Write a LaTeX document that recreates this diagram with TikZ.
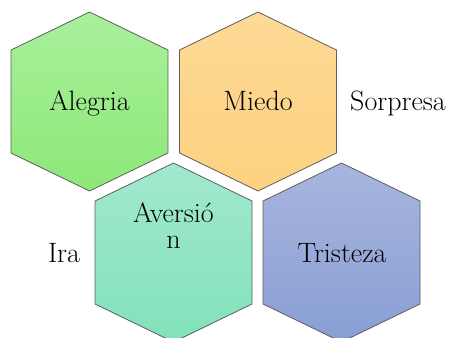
\documentclass[tikz,border=0pt]{standalone}
\usepackage{tikz}
\definecolor{alegriaTop}{HTML}{A8F09C}
\definecolor{alegriaBot}{HTML}{8DE877}
\definecolor{miedoTop}{HTML}{FDDA96}
\definecolor{miedoBot}{HTML}{FDD180}
\definecolor{aversionTop}{HTML}{A2E8CE}
\definecolor{aversionBot}{HTML}{82E2BA}
\definecolor{tristezaTop}{HTML}{A8B6DE}
\definecolor{tristezaBot}{HTML}{889ED4}
\definecolor{hexline}{HTML}{5E5E5E}
\def\hexa[#1](#2,#3){\draw[#1] (#2, #3-89.5) -- (#2+78.5, #3-51.5) -- (#2+78.5, #3+51.5) -- (#2, #3+89.5) -- (#2-78.5, #3+51.5) -- (#2-78.5, #3-51.5) -- cycle;}
\tikzset{hexcell/.style={line width=0.8pt, draw=hexline},
  emotion/.style={font=\fontsize{28}{26}\selectfont, align=center, inner sep=0pt, anchor=base}}

\begin{document}
\begin{tikzpicture}[x=1pt, y=-1pt]
			%%%%% START %%%%%
			
			\useasboundingbox (0, 0) rectangle (451, 338);
			
			\hexa[hexcell, top color=alegriaTop, bottom color=alegriaBot](89.5, 101.5)
			\hexa[hexcell, top color=miedoTop, bottom color=miedoBot](258, 101.5)
			\hexa[hexcell, top color=aversionTop, bottom color=aversionBot](173.5, 252.5)
			\hexa[hexcell, top color=tristezaTop, bottom color=tristezaBot](341.5, 252.5)
			
			\node[emotion] (alegria) at (89.5, 110) {Alegria};
			\node[emotion] (miedo) at (258, 110) {Miedo};
			\node[emotion] (sorpresa) at (398, 110) {Sorpresa};
			
			\node[emotion] (ira) at (64, 262) {Ira};
			\node[emotion] (aversion) at (173.5, 248) {Aversió\\n};
			\node[emotion] (tristeza) at (342, 262) {Tristeza};
			
			%%%%% END %%%%%
		\end{tikzpicture}
\end{document}
